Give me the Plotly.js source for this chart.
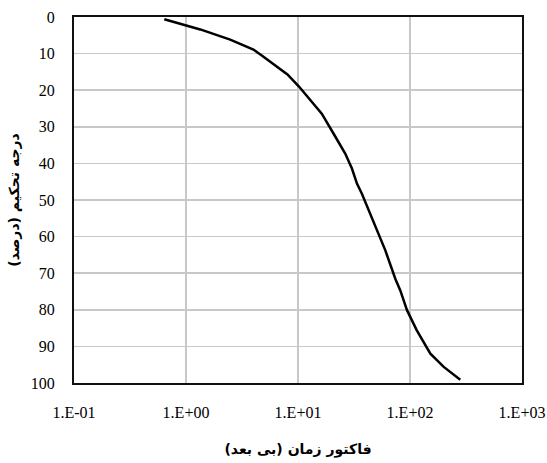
<!DOCTYPE html>
<html>
<head>
<meta charset="utf-8">
<script src="https://cdn.plot.ly/plotly-3.0.1.min.js"></script>
<style>html,body{margin:0;padding:0;background:#fff;}#chart{width:547px;height:463px;}</style>
</head>
<body>
<div id="chart"></div>
<script>
const timeFactor = [0.64, 1.34, 2.48, 4.0, 4.75, 8.05, 10.2, 16.3, 20.8, 26.4, 30.3, 33.6, 37.2, 44.2, 52.5, 60.1, 73.9, 81.9, 94, 115, 152, 200, 281];
const consolidation = [0.6, 3.4, 6.2, 8.9, 10.5, 15.7, 19.0, 26.4, 31.9, 37.3, 41.4, 45.5, 48.3, 53.7, 59.2, 63.7, 71.5, 74.7, 80.1, 85.6, 92.0, 95.6, 99.1];
const xTickVals = [0.1, 1, 10, 100, 1000];
const xTickText = ["1.E-01", "1.E+00", "1.E+01", "1.E+02", "1.E+03"];
const yTickVals = [0, 10, 20, 30, 40, 50, 60, 70, 80, 90, 100];
const xTitle = "فاکتور زمان (بی بعد)";
const yTitle = "درجه تحکیم (درصد)";

const trace = {
  x: timeFactor, y: consolidation, type: 'scatter', mode: 'lines',
  line: {color: '#000', width: 2.5}, hoverinfo: 'skip'
};
const tickFont = {family: 'Liberation Serif', size: 16, color: '#000'};
const titleFont = {family: 'DejaVu Sans', size: 14, color: '#000', weight: 'bold'};
const layout = {
  width: 547, height: 463,
  margin: {l: 74, r: 25, t: 17, b: 80},
  paper_bgcolor: '#fff', plot_bgcolor: '#fff',
  showlegend: false,
  xaxis: {
    type: 'log', range: [-1, 3],
    tickvals: xTickVals, ticktext: xTickText,
    tickfont: tickFont, ticks: '', ticklabelstandoff: 14,
    showgrid: true, gridcolor: '#c8c8c8', gridwidth: 1.5,
    showline: true, linecolor: '#111', linewidth: 2, mirror: true,
    zeroline: false,
    title: {text: xTitle, font: titleFont, standoff: 24}
  },
  yaxis: {
    range: [100, 0], tickvals: yTickVals,
    tickfont: tickFont, ticks: '', ticklabelstandoff: 14,
    showgrid: true, gridcolor: '#c8c8c8', gridwidth: 1.5,
    showline: true, linecolor: '#111', linewidth: 2, mirror: true,
    zeroline: false,
    title: {text: yTitle, font: titleFont, standoff: 8}
  }
};
Plotly.newPlot('chart', [trace], layout, {displayModeBar: false, staticPlot: true});
</script>
</body>
</html>
